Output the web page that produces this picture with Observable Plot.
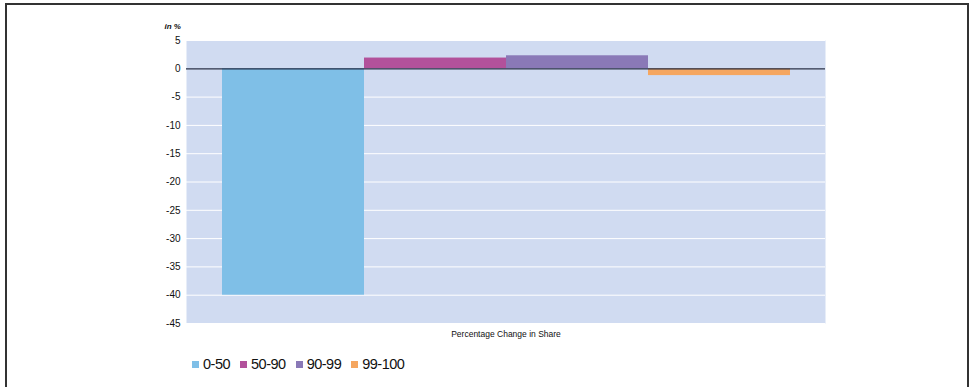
<!DOCTYPE html>
<html>
<head>
<meta charset="utf-8">
<script src="https://cdn.jsdelivr.net/npm/d3@7"></script>
<script src="https://cdn.jsdelivr.net/npm/@observablehq/plot@0.6"></script>
<style>
  html, body { margin: 0; padding: 0; background: #fff; }
  #wrap { position: relative; width: 974px; height: 387px; overflow: hidden; font-family: "Liberation Sans", Arial, sans-serif; }
  #border { position: absolute; left: 5px; top: 3px; width: 964px; height: 400px; border: 2px solid #333; box-sizing: border-box; }
  #chart { position: absolute; left: 0; top: 0; }
  #legend { position: absolute; left: 192px; top: 356px; display: flex; gap: 10px; font-size: 14.5px; color: #111; letter-spacing: -0.5px; }
  #legend span.item { display: flex; align-items: center; gap: 4px; }
  #legend span.sw { display: inline-block; width: 7px; height: 7px; margin-top: 1px; }
</style>
</head>
<body>
<div id="wrap">
  <div id="border"></div>
  <div id="chart"></div>
  <div id="legend"></div>
</div>
<script>
// Income groups (percentile ranges) and their change in share, in %
const groups = ["0-50", "50-90", "90-99", "99-100"];
const changes = [-40, 1.9, 2.3, -1.2];
const colors = ["#7fbfe7", "#b2519b", "#8a79b7", "#f5a660"];
const yTicks = [5, 0, -5, -10, -15, -20, -25, -30, -35, -40, -45];

const data = groups.map((g, i) => ({group: g, change: changes[i]}));

const chart = Plot.plot({
  width: 974,
  height: 345,
  marginLeft: 186,
  marginRight: 149,
  marginTop: 40,
  marginBottom: 22,
  style: {fontFamily: "Liberation Sans, Arial, sans-serif", fontSize: "10px", color: "#111"},
  x: {domain: groups, paddingInner: 0, paddingOuter: 0.25, axis: null},
  y: {domain: [-45, 5], ticks: yTicks, label: null},
  color: {domain: groups, range: colors},
  marks: [
    Plot.frame({fill: "#d0dbf1", stroke: null}),
    Plot.gridY(yTicks, {stroke: "#fff", strokeOpacity: 1, strokeWidth: 1}),
    Plot.axisY(yTicks, {tickSize: 0, tickPadding: 6, label: null, tickFormat: d => String(d)}),
    Plot.barY(data, {x: "group", y1: 0, y2: "change", fill: "group"}),
    Plot.ruleY([0], {stroke: "#1f2a44", strokeWidth: 1.2}),
    Plot.text(["in %"], {frameAnchor: "top-left", dx: -22, dy: -17, text: d => d, fontStyle: "italic", fontWeight: "bold", fontSize: 8, textAnchor: "start"}),
    Plot.text(["Percentage Change in Share"], {frameAnchor: "bottom", dy: 13, text: d => d, fontSize: 8.5})
  ]
});
document.getElementById("chart").appendChild(chart);

// Legend below the chart
const legend = document.getElementById("legend");
groups.forEach((g, i) => {
  const item = document.createElement("span");
  item.className = "item";
  const sw = document.createElement("span");
  sw.className = "sw";
  sw.style.background = colors[i];
  item.appendChild(sw);
  item.appendChild(document.createTextNode(g));
  legend.appendChild(item);
});
</script>
</body>
</html>
